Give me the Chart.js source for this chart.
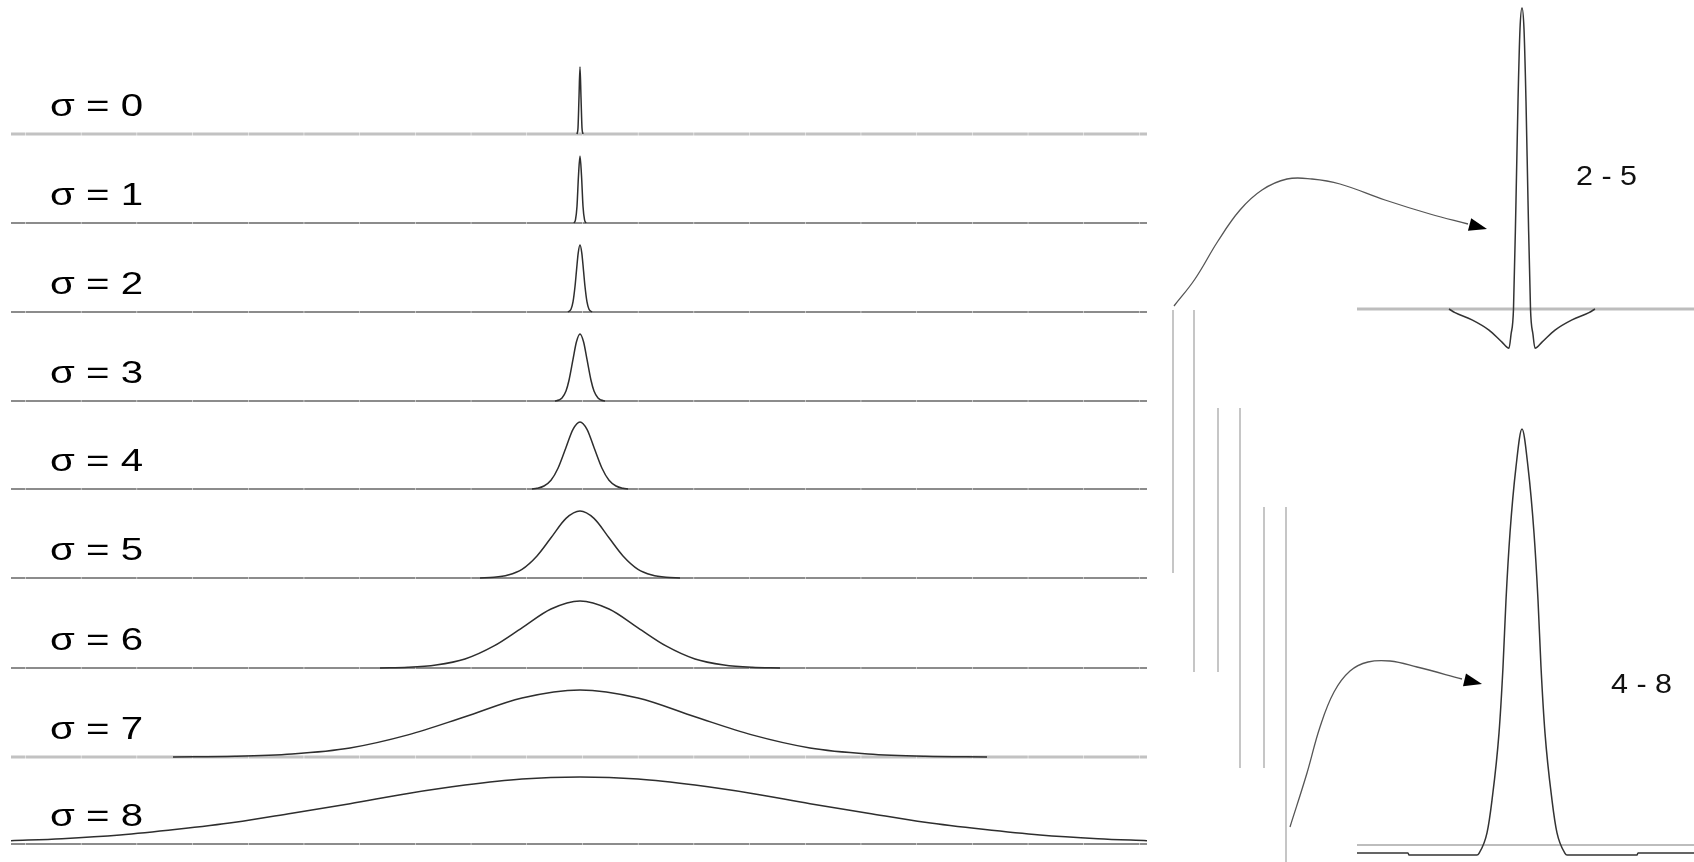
<!DOCTYPE html>
<html><head><meta charset="utf-8">
<script src="https://cdn.jsdelivr.net/npm/chart.js@4.4.1/dist/chart.umd.min.js"></script>
<style>
html,body{margin:0;padding:0;background:#fff;}
body{width:1694px;height:862px;position:relative;overflow:hidden;}
canvas{position:absolute;}
</style></head><body>
<script>
// ---------------- DATA ----------------
const rowLabels = ['σ = 0','σ = 1','σ = 2','σ = 3','σ = 4','σ = 5','σ = 6','σ = 7','σ = 8'];

// Gaussian profiles (x = offset from the centre, y = normalised height)
const s0x = [-3,-2,-1,0,1,2,3];
const s0y = [0,0.09,0.55,1,0.55,0.09,0];
const s1x = [-6,-4.5,-3,-1.5,0,1.5,3,4.5,6];
const s1y = [0,0.05,0.25,0.71,1,0.71,0.25,0.05,0];
const s2x = [-12,-9,-7,-5,-3.5,-1.8,0,1.8,3.5,5,7,9,12];
const s2y = [0,0.04,0.15,0.38,0.62,0.88,1,0.88,0.62,0.38,0.15,0.04,0];
const s3x = [-25,-21,-18,-14,-11,-7,-3.6,0,3.6,7,11,14,18,21,25];
const s3y = [0,0.015,0.045,0.15,0.31,0.62,0.88,1,0.88,0.62,0.31,0.15,0.045,0.015,0];
const s4x = [-48,-43,-36,-29,-22,-14,-7,0,7,14,22,29,36,43,48];
const s4y = [0,0.01,0.045,0.13,0.31,0.62,0.89,1,0.89,0.62,0.31,0.13,0.045,0.01,0];
const s5x = [-100,-86,-72,-58,-43,-29,-14,0,14,29,43,58,72,86,100];
const s5y = [0,0.01,0.045,0.13,0.33,0.6,0.89,1,0.89,0.6,0.33,0.13,0.045,0.01,0];
const s6x = [-200,-172,-144,-115,-86,-58,-29,0,29,58,86,115,144,172,200];
const s6y = [0,0.01,0.045,0.135,0.33,0.6,0.88,1,0.88,0.6,0.33,0.135,0.045,0.01,0];
const s7x = [-407,-345,-288,-230,-172,-115,-58,0,58,115,172,230,288,345,407];
const s7y = [0,0.01,0.045,0.135,0.33,0.6,0.88,1,0.88,0.6,0.33,0.135,0.045,0.01,0];
const s8x = [-569,-518,-460,-403,-345,-288,-230,-172,-115,-58,0,58,115,172,230,288,345,403,460,518,567];
const s8y = [0.05,0.08,0.135,0.22,0.325,0.46,0.6,0.755,0.88,0.97,1,0.97,0.88,0.755,0.6,0.46,0.325,0.22,0.135,0.08,0.05];

// Difference of Gaussians "2 - 5"
const dogAX = [-73,-67,-50,-33,-20,-13,-11,-8.5,-6,-4,-2,0,2,4,6,8.5,11,13,20,33,50,67,73];
const dogAY = [0,-0.012,-0.036,-0.07,-0.11,-0.13,-0.085,0,0.36,0.69,0.93,1,0.93,0.69,0.36,0,-0.085,-0.13,-0.11,-0.07,-0.036,-0.012,0];
// Difference of Gaussians "4 - 8"
const dogBX = [-165,-114,-113,-45,-43,-35,-30,-23,-19,-16,-12,-6,0,6,12,16,19,23,30,35,43,45,115,116,172];
const dogBY = [-0.019,-0.019,-0.024,-0.024,-0.02,0.029,0.108,0.269,0.428,0.589,0.75,0.909,1,0.909,0.75,0.589,0.428,0.269,0.108,0.029,-0.02,-0.024,-0.024,-0.019,-0.019];
const dogLabels = ['2 - 5','4 - 8'];

// ---------------- LAYOUT ----------------
const rowX = [s0x,s1x,s2x,s3x,s4x,s5x,s6x,s7x,s8x];
const rowY = [s0y,s1y,s2y,s3y,s4y,s5y,s6y,s7y,s8y];
const rowBaselines = [134,223,312,401,489,578,668,757,844];
const rowLeft = 11, rowWidth = 1136, rowCenterPx = 580;
const rowAbove = 79, rowBelow = 7, rowUnitPx = 67;
const lightRows = [0,7];
const rowFont = '31px "Liberation Sans", Arial, sans-serif';
const dogFont = '27px "Liberation Sans", Arial, sans-serif';

const guideLines = [[1173,310,573],[1194,310,672],[1218,408,672],[1240,408,768],[1264,507,768],[1286,507,862]];
const arrowPaths = [
  [[1174,306],[1195,279],[1218,241],[1240,210],[1262,190],[1287,179],[1312,179],[1340,184],[1385,200],[1430,214],[1468,224]],
  [[1290,827],[1307,773],[1320,727],[1334,692],[1350,671],[1368,662],[1390,661],[1417,667],[1462,679]]
];
const arrowHeads = [{tip:[1487,229],from:[1433,215]},{tip:[1482,684],from:[1440,674]}];

// ---------------- HELPERS ----------------
const measureCtx = document.createElement('canvas').getContext('2d');
function textScale(text, font, width){ measureCtx.font = font; return width / measureCtx.measureText(text).width; }
const rowScale = textScale(rowLabels[0], rowFont, 93);
const dogScale = textScale(dogLabels[0], dogFont, 61);

const textPlugin = {
  id:'textLabel',
  afterDraw(chart, args, opts){
    if(!opts || !opts.text) return;
    const ctx = chart.ctx; ctx.save();
    ctx.font = opts.font; ctx.fillStyle = opts.color || '#000';
    ctx.textBaseline = 'alphabetic';
    ctx.translate(opts.x, opts.y);
    ctx.scale(opts.sx || 1, 1);
    ctx.fillText(opts.text, 0, 0);
    ctx.restore();
  }
};
const arrowPlugin = {
  id:'arrowHeads',
  afterDatasetsDraw(chart, args, opts){
    if(!opts || !opts.heads) return;
    const ctx = chart.ctx, sx = chart.scales.x, sy = chart.scales.y;
    opts.heads.forEach(h=>{
      const tx = sx.getPixelForValue(h.tip[0]), ty = sy.getPixelForValue(h.tip[1]);
      const fx = sx.getPixelForValue(h.from[0]), fy = sy.getPixelForValue(h.from[1]);
      const a = Math.atan2(ty-fy, tx-fx), L = 18, W = 6.5;
      const bx = tx - L*Math.cos(a), by = ty - L*Math.sin(a);
      ctx.save(); ctx.fillStyle = '#000'; ctx.beginPath();
      ctx.moveTo(tx,ty);
      ctx.lineTo(bx + W*Math.sin(a), by - W*Math.cos(a));
      ctx.lineTo(bx - W*Math.sin(a), by + W*Math.cos(a));
      ctx.closePath(); ctx.fill(); ctx.restore();
    });
  }
};
Chart.register(textPlugin, arrowPlugin);

function makeCanvas(left, top, w, h){
  const c = document.createElement('canvas');
  c.width = w; c.height = h;
  c.style.left = left+'px'; c.style.top = top+'px';
  c.style.width = w+'px'; c.style.height = h+'px';
  document.body.appendChild(c);
  return c;
}
function pts(xs, ys){ return xs.map((x,i)=>({x:x, y:ys[i]})); }
function baseOpts(xmin,xmax,ymin,ymax,reverse){
  return {
    responsive:false, animation:false, devicePixelRatio:1, events:[],
    layout:{padding:0},
    plugins:{legend:{display:false}, tooltip:{enabled:false}, title:{display:false}},
    scales:{
      x:{type:'linear', display:false, min:xmin, max:xmax},
      y:{type:'linear', display:false, min:ymin, max:ymax, reverse:!!reverse}
    },
    elements:{point:{radius:0}}
  };
}

// ---------------- LEFT ROWS ----------------
rowLabels.forEach((lab, i)=>{
  const base = rowBaselines[i];
  const c = makeCanvas(rowLeft, base-rowAbove, rowWidth, rowAbove+rowBelow);
  const xmin = rowLeft - rowCenterPx, xmax = rowLeft + rowWidth - rowCenterPx;
  const opts = baseOpts(xmin, xmax, -rowBelow/rowUnitPx, rowAbove/rowUnitPx);
  const light = lightRows.includes(i);
  opts.plugins.textLabel = {text:lab, x:50-rowLeft, y:rowAbove-18, font:rowFont, color:'#000', sx:rowScale};
  new Chart(c, {
    type:'line',
    data:{datasets:[
      {data:pts(rowX[i], rowY[i]), borderColor:'#2e2e2e', borderWidth:1.5, cubicInterpolationMode:'monotone', fill:false, pointRadius:0, order:0},
      {data:[{x:xmin,y:0},{x:xmax,y:0}], borderColor: light ? '#c2c2c2' : '#8c8c8c', borderWidth: light ? 3 : 2,
       borderDash:[55.2,0.5], borderDashOffset:41, fill:false, pointRadius:0, order:1}
    ]},
    options:opts
  });
});

// ---------------- RIGHT PANELS ----------------
(function(){
  const left = 1340, w = 354, centre = 1522;
  // top DoG
  const topH = 360, baseA = 309, unitA = 301;
  const cA = makeCanvas(left, 0, w, topH);
  const oA = baseOpts(left-centre, left+w-centre, -(topH-baseA)/unitA, baseA/unitA);
  oA.plugins.textLabel = {text:dogLabels[0], x:1576-left, y:185, font:dogFont, color:'#111', sx:dogScale};
  new Chart(cA, {type:'line', data:{datasets:[
    {data:pts(dogAX,dogAY), borderColor:'#333', borderWidth:1.5, cubicInterpolationMode:'monotone', fill:false, pointRadius:0, order:0},
    {data:[{x:1357-centre,y:0},{x:left+w-centre,y:0}], borderColor:'#bdbdbd', borderWidth:3, fill:false, pointRadius:0, order:1}
  ]}, options:oA});
  // bottom DoG
  const topB = 400, hB = 462, baseB = 845, unitB = 416;
  const cB = makeCanvas(left, topB, w, hB);
  const oB = baseOpts(left-centre, left+w-centre, -(topB+hB-baseB)/unitB, (baseB-topB)/unitB);
  oB.plugins.textLabel = {text:dogLabels[1], x:1611-left, y:693-topB, font:dogFont, color:'#111', sx:dogScale};
  new Chart(cB, {type:'line', data:{datasets:[
    {data:pts(dogBX,dogBY), borderColor:'#333', borderWidth:1.5, cubicInterpolationMode:'monotone', fill:false, pointRadius:0, order:0},
    {data:[{x:1357-centre,y:0},{x:left+w-centre,y:0}], borderColor:'#bdbdbd', borderWidth:2, fill:false, pointRadius:0, order:1}
  ]}, options:oB});
})();

// ---------------- OVERLAY (guides + arrows) ----------------
(function(){
  const c = makeCanvas(0, 0, 1694, 862);
  const o = baseOpts(0, 1694, 0, 862, true);
  o.plugins.arrowHeads = {heads:arrowHeads};
  const ds = [];
  guideLines.forEach(g=>ds.push({data:[{x:g[0],y:g[1]},{x:g[0],y:g[2]}], borderColor:'#b8b8b8', borderWidth:1.6, fill:false, pointRadius:0}));
  arrowPaths.forEach(p=>ds.push({data:p.map(q=>({x:q[0],y:q[1]})), borderColor:'#555', borderWidth:1.3, tension:0.4, fill:false, pointRadius:0}));
  new Chart(c, {type:'line', data:{datasets:ds}, options:o});
})();
</script>
</body></html>
